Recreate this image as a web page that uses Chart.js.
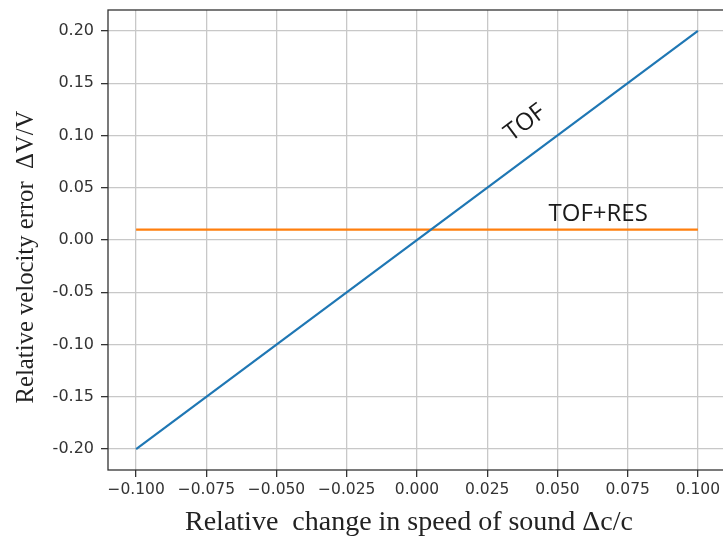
<!DOCTYPE html>
<html>
<head>
<meta charset="utf-8">
<script src="https://cdn.jsdelivr.net/npm/chart.js@4/dist/chart.umd.min.js"></script>
<style>
  html, body { margin: 0; padding: 0; background: #fff; overflow: hidden; }
  #wrap { width: 730px; height: 537px; }
</style>
</head>
<body>
<div id="wrap"><canvas id="plot"></canvas></div>
<script>
// values
let xVals = [-0.1, 0.1];
let tofVals = [-0.2, 0.2];
let tofResVals = [0.01, 0.01];
let xTicks = [-0.1, -0.075, -0.05, -0.025, 0, 0.025, 0.05, 0.075, 0.1];
let yTicks = [-0.2, -0.15, -0.1, -0.05, 0, 0.05, 0.1, 0.15, 0.2];
let xTitle = 'Relative  change in speed of sound \u0394c/c';
let yTitle = 'Relative velocity error  \u0394V/V';

let toPoints = (xs, ys) => xs.map((x, i) => ({ x: x, y: ys[i] }));

let frameAndLabels = {
    id: 'frameAndLabels',
    afterDraw: (chart) => {
        let ctx = chart.ctx;
        let a = chart.chartArea;
        let sx = chart.scales.x;
        let sy = chart.scales.y;
        ctx.save();
        ctx.strokeStyle = '#333';
        ctx.lineWidth = 1.3;
        ctx.strokeRect(a.left, a.top, a.right - a.left, a.bottom - a.top);

        // axis titles (serif, like the original)
        ctx.fillStyle = '#222';
        ctx.textAlign = 'center';
        ctx.textBaseline = 'alphabetic';
        ctx.font = '28px "Liberation Serif", serif';
        ctx.fillText(xTitle, 409, 530);
        ctx.save();
        ctx.translate(33, 257);
        ctx.rotate(-Math.PI / 2);
        ctx.font = '24.7px "Liberation Serif", serif';
        ctx.fillText(yTitle, 0, 0);
        ctx.restore();

        ctx.fillStyle = '#1a1a1a';
        ctx.font = '24px "Open Sans", "Noto Sans", sans-serif';
        ctx.textBaseline = 'middle';
        // TOF label, rotated along the line
        ctx.save();
        ctx.translate(sx.getPixelForValue(0.0385), sy.getPixelForValue(0.112));
        ctx.rotate(-37 * Math.PI / 180);
        ctx.fillText('TOF', 0, 0);
        ctx.restore();
        // TOF+RES label
        ctx.fillText('TOF+RES', sx.getPixelForValue(0.0645), sy.getPixelForValue(0.025));
        ctx.restore();
    }
};

let config = {
    type: 'line',
    data: {
        datasets: [
            {
                label: 'TOF',
                data: toPoints(xVals, tofVals),
                borderColor: '#1f77b4',
                borderWidth: 2.2,
                pointRadius: 0,
                fill: false
            },
            {
                label: 'TOF+RES',
                data: toPoints(xVals, tofResVals),
                borderColor: '#ff7f0e',
                borderWidth: 2.2,
                pointRadius: 0,
                fill: false
            }
        ]
    },
    options: {
        responsive: true,
        maintainAspectRatio: false,
        animation: false,
        layout: { padding: { top: 0, right: 4, left: 0, bottom: 0 } },
        plugins: {
            legend: { display: false },
            tooltip: { enabled: false }
        },
        scales: {
            x: {
                type: 'linear',
                min: -0.11,
                max: 0.11,
                afterBuildTicks: (s) => { s.ticks = xTicks.map(v => ({ value: v })); },
                afterFit: (s) => { s.height = 67; },
                grid: { color: '#c8c8c8', lineWidth: 1.3, tickColor: '#333', tickLength: 7 },
                border: { display: false },
                ticks: {
                    color: '#333',
                    padding: 4,
                    maxRotation: 0,
                    font: { family: '"DejaVu Sans"', size: 15.5 },
                    callback: (v) => v.toFixed(3).replace('-', '\u2212')
                }
            },
            y: {
                type: 'linear',
                min: -0.22,
                max: 0.22,
                afterBuildTicks: (s) => { s.ticks = yTicks.map(v => ({ value: v })); },
                afterFit: (s) => { s.width = 108; s.paddingTop = 10; },
                grid: { color: '#c8c8c8', lineWidth: 1.3, tickColor: '#333', tickLength: 7 },
                border: { display: false },
                ticks: {
                    color: '#333',
                    padding: 7,
                    font: { family: '"DejaVu Sans"', size: 16 },
                    callback: (v) => v.toFixed(2)
                }
            }
        }
    },
    plugins: [frameAndLabels]
};

let chart1 = new Chart(document.getElementById('plot'), config);
</script>
</body>
</html>
